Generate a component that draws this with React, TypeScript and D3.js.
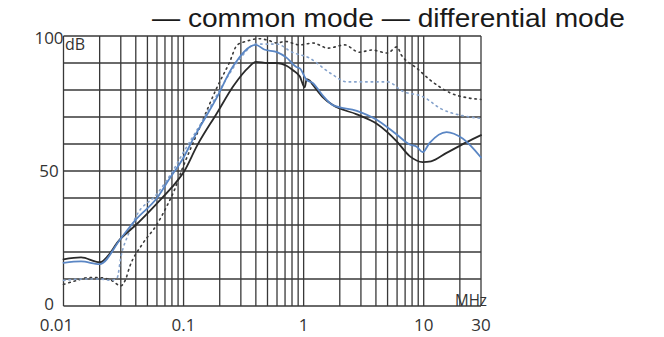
import * as d3 from 'd3';

// frequency (MHz) / attenuation (dB)
const commonFreq = [0.01, 0.014, 0.02, 0.03, 0.04, 0.06, 0.08, 0.1, 0.13, 0.19, 0.26, 0.35, 0.4, 0.5, 0.6, 0.72, 0.81, 0.93, 1.02, 1.06, 1.12, 1.19, 1.44, 1.75, 2.77, 4.06, 5.96, 7.64, 9.8, 11.5, 15.5, 22.8, 30];
const commonDb = [17.3, 18, 16.2, 25, 30, 38, 44, 49.5, 59.5, 71.5, 81.5, 88.5, 90.4, 90, 90, 89, 87.4, 85, 81, 84, 83.5, 82, 77.4, 74.4, 71, 67.5, 61, 55.5, 53.3, 53.6, 56.7, 60.7, 63.3];

const diffFreq = [0.01, 0.014, 0.02, 0.03, 0.04, 0.06, 0.076, 0.1, 0.119, 0.188, 0.256, 0.4, 0.47, 0.6, 0.72, 0.87, 0.93, 1.06, 1.19, 1.28, 1.44, 1.75, 2.77, 4.06, 5.96, 7.64, 8.75, 9.8, 11.2, 15.5, 21.1, 30];
const diffDb = [16, 16.5, 15.5, 25, 32, 40, 47, 55, 61.5, 77, 88.5, 96.7, 95, 94, 92, 88.5, 88, 83.7, 82.6, 81, 78, 74.4, 72.3, 69, 63.5, 59.8, 59, 57, 60.4, 64.4, 62, 55];

const commonRefFreq = [0.01, 0.013, 0.016, 0.02, 0.025, 0.03, 0.033, 0.0355, 0.0455, 0.0596, 0.072, 0.084, 0.096, 0.1, 0.136, 0.19, 0.24, 0.28, 0.33, 0.43, 0.5, 0.6, 0.7, 0.93, 1.19, 1.6, 2.2, 2.9, 3.7, 5, 6, 6.5, 7.6, 8.5, 11.3, 16.5, 24, 30];
const commonRefDb = [8, 9.5, 10.5, 10.5, 9.5, 7.5, 10, 14.4, 23, 30, 36.7, 43, 50, 52, 66, 81, 90, 96.7, 98, 99, 98.5, 97.4, 98, 96.7, 97.4, 95.5, 96.7, 94, 94.8, 93.7, 96, 93, 90, 88.5, 83.7, 79, 77, 76.5];

const diffRefFreq = [0.01, 0.015, 0.02, 0.025, 0.028, 0.03, 0.035, 0.04, 0.06, 0.08, 0.1, 0.15, 0.2, 0.3, 0.4, 0.6, 0.8, 1.1, 1.7, 2.3, 3.7, 5, 6.7, 9.9, 14, 21, 30];
const diffRefDb = [9.5, 10, 10, 9.5, 10.5, 18, 27, 33, 41.5, 49.5, 57, 70, 80, 92, 97, 97, 94, 92, 86, 83, 83, 83, 79.5, 77.5, 73, 70.5, 69.5];

const xTicks = [0.01, 0.1, 1, 10, 30];
const xTickLabels = ['0.01', '0.1', '1', '10', '30'];
const yTicks = [0, 50, 100];

const legendText = '— common mode — differential mode';

const width = 664;
const height = 337;

export default function App() {
  const x = d3.scaleLog().domain([0.01, 30]).range([63.5, 481]);
  const y = d3.scaleLinear().domain([0, 100]).range([306, 36]);

  const line = d3
    .line<[number, number]>()
    .x((d) => x(d[0]))
    .y((d) => y(d[1]))
    .curve(d3.curveMonotoneX);

  const zip = (f: number[], v: number[]) => f.map((d, i) => [d, v[i]] as [number, number]);

  // vertical grid: 1..9 of every decade up to 30
  const vGrid: number[] = [];
  [0.01, 0.1, 1, 10].forEach((dec) => {
    for (let k = 1; k <= 9; k++) {
      const f = dec * k;
      if (f <= 30.0001) vGrid.push(f);
    }
  });
  const hGrid = d3.range(0, 101, 10);

  const gridColor = '#383838';
  const font = '"Open Sans", "Noto Sans", sans-serif';

  // labels sit a little lower at the top of the axis, a little higher at the bottom
  const yLabelShift = (v: number) => (v === 0 ? -3 : v === 100 ? 1.5 : -0.5);

  return (
    <svg
      width={width}
      height={height}
      style={{ position: 'absolute', left: 0, top: 0, background: '#fff' }}
    >
      {/* legend */}
      <text
        x={152}
        y={27}
        fontFamily='"Liberation Sans", Arial, sans-serif'
        fontSize={25}
        fill="#1a1a1a"
        textLength={473}
        lengthAdjust="spacingAndGlyphs"
      >
        {legendText}
      </text>

      {/* grid */}
      <g stroke={gridColor} strokeWidth={1.3}>
        {vGrid.map((f) => (
          <line key={'v' + f} x1={x(f)} x2={x(f)} y1={y(0)} y2={y(100)} />
        ))}
        {hGrid.map((v) => (
          <line key={'h' + v} x1={x(0.01)} x2={x(30)} y1={y(v)} y2={y(v)} />
        ))}
      </g>

      {/* curves */}
      <g fill="none" strokeLinejoin="round" strokeLinecap="round">
        <path d={line(zip(commonRefFreq, commonRefDb)) || ''} stroke="#3a3a3a" strokeWidth={1.6} strokeDasharray="1.5 4" />
        <path d={line(zip(diffRefFreq, diffRefDb)) || ''} stroke="#86a3cc" strokeWidth={1.6} strokeDasharray="1.5 4" />
        <path d={line(zip(commonFreq, commonDb)) || ''} stroke="#2a2a2a" strokeWidth={1.8} />
        <path d={line(zip(diffFreq, diffDb)) || ''} stroke="#5a86c4" strokeWidth={1.8} />
      </g>

      {/* y tick labels */}
      <g fontFamily={font} fontSize={17} fill="#333" textAnchor="middle">
        {yTicks.map((v) => (
          <text key={'y' + v} x={49} y={y(v) + yLabelShift(v)} dominantBaseline="central">
            {v}
          </text>
        ))}
      </g>

      {/* x tick labels */}
      <g fontFamily={font} fontSize={17} fill="#333" textAnchor="middle">
        {xTicks.map((v, i) => (
          <text key={'x' + v} x={x(v) + (i === 0 ? -7 : 0)} y={331}>
            {xTickLabels[i]}
          </text>
        ))}
      </g>

      {/* units */}
      <text x={65} y={50} fontFamily={font} fontSize={16} fill="#333">
        dB
      </text>
      <text
        x={455}
        y={306}
        fontFamily={font}
        fontSize={17}
        fill="#333"
        textLength={32}
        lengthAdjust="spacingAndGlyphs"
      >
        MHz
      </text>
    </svg>
  );
}
